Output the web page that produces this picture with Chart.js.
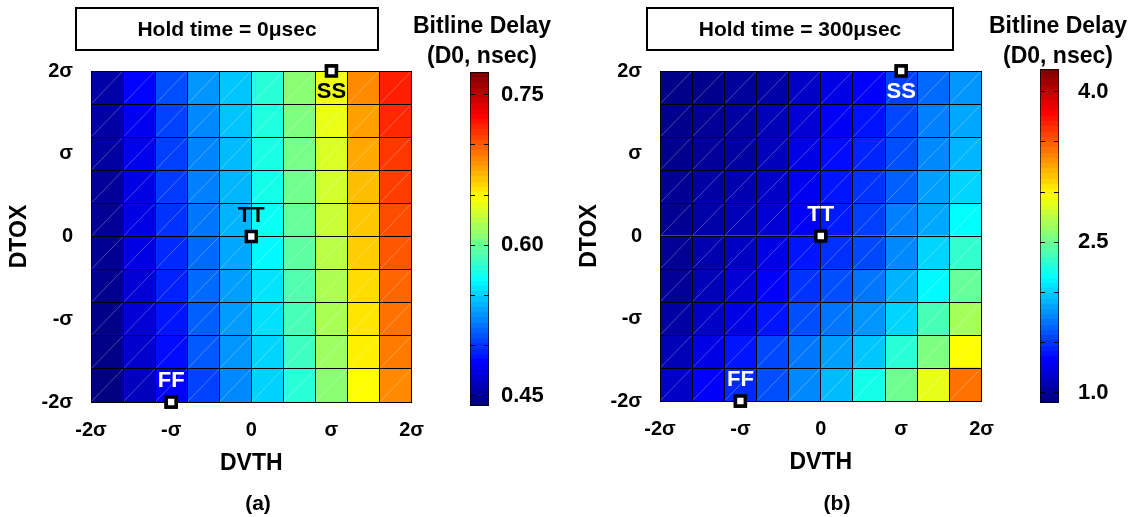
<!DOCTYPE html>
<html>
<head>
<meta charset="utf-8">
<script src="https://cdn.jsdelivr.net/npm/chart.js@4/dist/chart.umd.min.js"></script>
<style>
  body { margin: 0; background: #fff; }
  #wrap { position: relative; width: 1130px; height: 517px; overflow: hidden;
          font-family: "Liberation Sans", Arial, sans-serif; font-weight: bold; color: #000; }
  #wrap canvas { position: absolute; top: 0; }
  .holdBox { position: absolute; top: 7px; height: 44px; box-sizing: border-box; border: 2px solid #000;
             text-align: center; line-height: 40px; font-size: 21px; }
  .cbLabel { position: absolute; top: 10px; width: 170px; text-align: center; font-size: 23px; line-height: 30px; }
  .panelTag { position: absolute; top: 489px; width: 60px; text-align: center; font-size: 21px; line-height: 28px; }
</style>
</head>
<body>
<div id="wrap">
  <canvas id="hmA" width="440" height="517" style="left:0px"></canvas>
  <canvas id="cbA" width="105" height="517" style="left:455px"></canvas>
  <canvas id="hmB" width="450" height="517" style="left:560px"></canvas>
  <canvas id="cbB" width="105" height="517" style="left:1025px"></canvas>

  <div class="holdBox" style="left:75px; width:304px">Hold time = 0μsec</div>
  <div class="holdBox" style="left:646px; width:308px">Hold time = 300μsec</div>
  <div class="cbLabel" style="left:397px">Bitline Delay<br>(D0, nsec)</div>
  <div class="cbLabel" style="left:973px">Bitline Delay<br>(D0, nsec)</div>
  <div class="panelTag" style="left:228px">(a)</div>
  <div class="panelTag" style="left:807px">(b)</div>
</div>
<script>
// cell edges of the 10x10 corner grid, in units of sigma
const binEdges = [-2, -1.6, -1.2, -0.8, -0.4, 0, 0.4, 0.8, 1.2, 1.6, 2];
const sigmaTicks = [-2, -1, 0, 1, 2];
const sigmaText = ['-2σ', '-σ', '0', 'σ', '2σ'];

// bitline delay D0 (nsec); rows go from DTOX = +2σ (top) down to -2σ,
// columns from DVTH = -2σ to +2σ
const delayHold0 = [
  [0.453, 0.482, 0.507, 0.530, 0.546, 0.578, 0.610, 0.643, 0.686, 0.721],
  [0.452, 0.477, 0.503, 0.526, 0.545, 0.575, 0.606, 0.641, 0.679, 0.718],
  [0.450, 0.475, 0.502, 0.525, 0.543, 0.573, 0.603, 0.636, 0.676, 0.713],
  [0.448, 0.473, 0.500, 0.523, 0.541, 0.571, 0.602, 0.633, 0.669, 0.711],
  [0.447, 0.473, 0.498, 0.520, 0.540, 0.568, 0.598, 0.630, 0.666, 0.706],
  [0.446, 0.472, 0.495, 0.516, 0.536, 0.563, 0.595, 0.625, 0.664, 0.703],
  [0.445, 0.468, 0.492, 0.516, 0.533, 0.556, 0.591, 0.621, 0.659, 0.698],
  [0.443, 0.468, 0.488, 0.513, 0.532, 0.555, 0.588, 0.620, 0.656, 0.694],
  [0.442, 0.465, 0.485, 0.511, 0.530, 0.551, 0.585, 0.616, 0.653, 0.691],
  [0.440, 0.460, 0.482, 0.503, 0.526, 0.550, 0.578, 0.610, 0.648, 0.686]
];
const delayHold300 = [
  [0.93, 0.94, 0.99, 1.03, 1.13, 1.23, 1.30, 1.52, 1.66, 1.80],
  [0.94, 0.97, 1.00, 1.08, 1.18, 1.28, 1.37, 1.55, 1.73, 1.86],
  [0.94, 0.98, 1.01, 1.10, 1.23, 1.35, 1.43, 1.57, 1.76, 1.91],
  [0.96, 1.02, 1.05, 1.13, 1.27, 1.38, 1.48, 1.63, 1.83, 2.01],
  [0.96, 1.03, 1.08, 1.17, 1.28, 1.40, 1.52, 1.73, 1.86, 2.15],
  [0.97, 1.05, 1.12, 1.23, 1.38, 1.47, 1.55, 1.76, 2.01, 2.31],
  [0.98, 1.08, 1.17, 1.30, 1.48, 1.57, 1.70, 1.90, 2.13, 2.48],
  [1.02, 1.13, 1.23, 1.38, 1.57, 1.70, 1.80, 2.01, 2.38, 2.68],
  [1.08, 1.23, 1.38, 1.55, 1.70, 1.83, 1.96, 2.28, 2.56, 2.98],
  [1.13, 1.30, 1.45, 1.57, 1.76, 1.93, 2.21, 2.51, 2.90, 3.44]
];

// process corners
const cornerNames = ['SS', 'TT', 'FF'];
const cornerDVTH = [1, 0, -1];
const cornerDTOX = [2, 0, -2];

// color limits and colorbar ticks
const rangeHold0 = [0.44, 0.7725];
const rangeHold300 = [0.90, 4.225];
const barTicksHold0 = [0.45, 0.50, 0.55, 0.60, 0.65, 0.70, 0.75];
const barLabelsHold0 = [0.45, 0.60, 0.75];
const barTicksHold300 = [1.0, 1.5, 2.0, 2.5, 3.0, 3.5, 4.0];
const barLabelsHold300 = [1.0, 2.5, 4.0];

const FONT = '"Liberation Sans", Arial, sans-serif';

function jet(t) {
  t = Math.min(1, Math.max(0, t));
  const c = k => Math.round(255 * Math.min(1, Math.max(0, 1.5 - Math.abs(4 * t - k))));
  return 'rgb(' + c(3) + ',' + c(2) + ',' + c(1) + ')';
}

function sigmaLabel(v) {
  const i = sigmaTicks.indexOf(v);
  return i < 0 ? '' : sigmaText[i];
}

// faint white diagonal through every cell
const cellDiagonals = {
  id: 'cellDiagonals',
  afterDatasetsDraw(chart) {
    const { ctx, scales: { x, y } } = chart;
    ctx.save();
    ctx.strokeStyle = 'rgba(255,255,255,0.35)';
    ctx.lineWidth = 0.8;
    ctx.beginPath();
    for (let i = 0; i < binEdges.length - 1; i++) {
      for (let j = 0; j < binEdges.length - 1; j++) {
        ctx.moveTo(x.getPixelForValue(binEdges[i]), y.getPixelForValue(binEdges[j]));
        ctx.lineTo(x.getPixelForValue(binEdges[i + 1]), y.getPixelForValue(binEdges[j + 1]));
      }
    }
    ctx.stroke();
    ctx.restore();
  }
};

// corner markers go back on top of the grid lines, then their names
const cornerLabels = {
  id: 'cornerLabels',
  afterDraw(chart, args, opts) {
    const { ctx } = chart;
    const meta = chart.getDatasetMeta(1);
    meta.data.forEach(pt => pt.draw(ctx, chart.chartArea));
    ctx.save();
    ctx.font = 'bold 22px ' + FONT;
    ctx.textAlign = 'center';
    ctx.textBaseline = 'middle';
    meta.data.forEach((pt, i) => {
      ctx.fillStyle = opts.colors[i];
      const dy = cornerDTOX[i] > 0 ? 21 : -21;
      ctx.fillText(cornerNames[i], pt.x, pt.y + dy);
    });
    ctx.restore();
  }
};

function heatmap(id, values, range, o) {
  const cells = [];
  values.forEach((row, r) => {
    row.forEach((v, c) => {
      cells.push({
        x: (binEdges[c] + binEdges[c + 1]) / 2,
        y: [binEdges[binEdges.length - 2 - r], binEdges[binEdges.length - 1 - r]],
        v: v
      });
    });
  });

  const tickFont = { family: FONT, size: 20, weight: 'bold' };
  const titleFont = { family: FONT, size: 23, weight: 'bold' };
  const edgeTicks = s => { s.ticks = binEdges.map(value => ({ value })); };
  const sigmaTickList = s => { s.ticks = sigmaTicks.map(value => ({ value })); };

  return new Chart(document.getElementById(id), {
    type: 'bar',
    data: {
      datasets: [{
        data: cells,
        backgroundColor: ctx => ctx.raw ? jet((ctx.raw.v - range[0]) / (range[1] - range[0])) : '#000',
        borderWidth: 0,
        barPercentage: 1,
        categoryPercentage: 1
      }, {
        type: 'scatter',
        data: cornerDVTH.map((x, i) => ({ x: x, y: cornerDTOX[i] })),
        pointStyle: 'rect',
        pointRadius: 7,
        pointBackgroundColor: '#fff',
        pointBorderColor: '#000',
        pointBorderWidth: 3.5,
        clip: false
      }]
    },
    options: {
      responsive: false,
      animation: false,
      devicePixelRatio: 1,
      layout: { padding: { left: 0, right: 17, top: 71, bottom: o.padBottom } },
      plugins: {
        legend: { display: false },
        tooltip: { enabled: false },
        cornerLabels: { colors: o.labelColors }
      },
      scales: {
        // cell grid, drawn over the cells
        x: {
          type: 'linear', position: 'bottom', min: -2, max: 2, offset: false, weight: 0,
          afterBuildTicks: edgeTicks,
          afterFit: s => { s.height = 0; },
          grid: { offset: false, drawTicks: false, lineWidth: 1, color: '#000', z: 1 },
          border: { display: true, color: '#000', width: 1, z: 1 },
          ticks: { display: false }
        },
        // sigma labels under the grid
        xs: {
          type: 'linear', position: 'bottom', min: -2, max: 2, offset: false, weight: 1,
          afterBuildTicks: sigmaTickList,
          afterFit: s => { s.height = 77; },
          grid: { display: false, drawTicks: false },
          border: { display: false },
          ticks: { autoSkip: false, maxRotation: 0, padding: 16, color: '#000', font: tickFont, callback: sigmaLabel },
          title: { display: true, text: 'DVTH', color: '#000', font: titleFont, padding: { top: 0, bottom: 2 } }
        },
        y: {
          type: 'linear', position: 'left', min: -2, max: 2, weight: 0,
          afterBuildTicks: edgeTicks,
          afterFit: s => { s.width = 0; },
          grid: { drawTicks: false, lineWidth: 1, color: '#000', z: 1 },
          border: { display: true, color: '#000', width: 1, z: 1 },
          ticks: { display: false }
        },
        ys: {
          type: 'linear', position: 'left', min: -2, max: 2, weight: 1,
          afterBuildTicks: sigmaTickList,
          afterFit: s => { s.width = o.axisWidth; },
          grid: { display: false, drawTicks: false },
          border: { display: false },
          ticks: { autoSkip: false, padding: 18, color: '#000', font: tickFont, callback: sigmaLabel },
          title: { display: true, text: 'DTOX', color: '#000', font: titleFont, padding: { top: o.titlePad, bottom: 0 } }
        }
      }
    },
    plugins: [cellDiagonals, cornerLabels]
  });
}

function colorbar(id, range, ticks, shown, digits, o) {
  return new Chart(document.getElementById(id), {
    type: 'bar',
    data: {
      labels: [''],
      datasets: [{
        data: [[range[0], range[1]]],
        backgroundColor: ctx => {
          const area = ctx.chart.chartArea;
          if (!area) return '#fff';
          const g = ctx.chart.ctx.createLinearGradient(0, area.bottom, 0, area.top);
          // 64 flat bands of the jet map
          for (let i = 0; i < 64; i++) {
            const col = jet(i / 63);
            g.addColorStop(i / 64, col);
            g.addColorStop((i + 1) / 64, col);
          }
          return g;
        },
        borderColor: '#000',
        borderWidth: 1,
        borderSkipped: false,
        barPercentage: 1,
        categoryPercentage: 1
      }]
    },
    options: {
      responsive: false,
      animation: false,
      devicePixelRatio: 1,
      layout: { padding: { left: 15, right: 0, top: o.top, bottom: o.bottom } },
      plugins: { legend: { display: false }, tooltip: { enabled: false } },
      scales: {
        x: { display: false },
        y: {
          position: 'right', min: range[0], max: range[1],
          afterBuildTicks: s => { s.ticks = ticks.map(value => ({ value })); },
          afterFit: s => { s.width = 71; },
          grid: { drawTicks: false, color: '#000', lineWidth: 1, z: 1 },
          border: { display: false, dash: [5, 9, 5] },
          ticks: {
            autoSkip: false, padding: o.pad, color: '#000',
            font: { family: FONT, size: 22, weight: 'bold' },
            callback: v => shown.includes(v) ? v.toFixed(digits) : ''
          }
        }
      }
    }
  });
}

heatmap('hmA', delayHold0, rangeHold0,
  { padBottom: 38, axisWidth: 91, titlePad: 6, labelColors: ['#000', '#000', '#fff'] });
heatmap('hmB', delayHold300, rangeHold300,
  { padBottom: 39, axisWidth: 100, titlePad: 16, labelColors: ['#fff', '#fff', '#fff'] });
colorbar('cbA', rangeHold0, barTicksHold0, barLabelsHold0, 2, { top: 72, bottom: 111, pad: 12 });
colorbar('cbB', rangeHold300, barTicksHold300, barLabelsHold300, 1, { top: 69, bottom: 114, pad: 19 });
</script>
</body>
</html>
